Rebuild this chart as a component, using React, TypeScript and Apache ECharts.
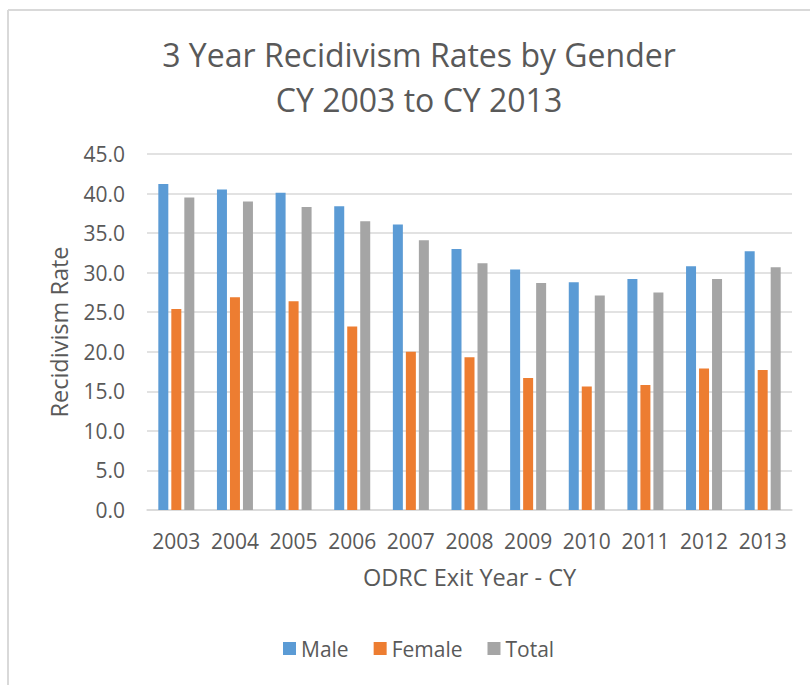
import React, { useEffect, useRef } from "react";
import * as echarts from "echarts";

const years = ["2003", "2004", "2005", "2006", "2007", "2008", "2009", "2010", "2011", "2012", "2013"];
const male = [41.2, 40.5, 40.1, 38.4, 36.1, 33.0, 30.4, 28.8, 29.2, 30.8, 32.7];
const female = [25.4, 26.9, 26.4, 23.2, 20.0, 19.3, 16.7, 15.6, 15.8, 17.9, 17.7];
const total = [39.5, 39.0, 38.3, 36.5, 34.1, 31.2, 28.7, 27.1, 27.5, 29.2, 30.7];
const seriesNames = ["Male", "Female", "Total"];
const colors = ["#5B9BD5", "#ED7D31", "#A5A5A5"];

const FONT = "'Open Sans', sans-serif";
const TEXT = "#595959";

export default function App() {
  const ref = useRef<HTMLDivElement>(null);
  useEffect(() => {
    if (!ref.current) return;
    const chart = echarts.init(ref.current, undefined, { renderer: "svg" });
    const dataSets = [male, female, total];
    chart.setOption({
      animation: false,
      backgroundColor: "#ffffff",
      textStyle: { fontFamily: FONT, color: TEXT },
      title: {
        text: "3 Year Recidivism Rates by Gender\nCY 2003 to CY 2013",
        left: 414,
        top: 27,
        textAlign: "center",
        textStyle: { fontFamily: FONT, fontSize: 32, fontWeight: "normal", color: TEXT, lineHeight: 45 },
      },
      graphic: [
        { type: "line", shape: { x1: 8, y1: 10, x2: 810, y2: 10 }, style: { stroke: "#d9d9d9", lineWidth: 2 } },
        { type: "line", shape: { x1: 8, y1: 10, x2: 8, y2: 685 }, style: { stroke: "#d9d9d9", lineWidth: 2 } },
      ],
      legend: {
        data: seriesNames,
        left: 278,
        top: 633,
        itemWidth: 13,
        itemHeight: 13,
        itemGap: 25,
        icon: "rect",
        textStyle: { fontFamily: FONT, fontSize: 21, color: TEXT, padding: [0, 0, 0, 0] },
      },
      grid: { left: 147, right: 18, top: 154, bottom: 175, containLabel: false },
      xAxis: {
        type: "category",
        data: years,
        name: "ODRC Exit Year - CY",
        nameLocation: "middle",
        nameGap: 55,
        nameTextStyle: { fontFamily: FONT, fontSize: 23.5, color: TEXT },
        axisTick: { show: false },
        axisLine: { lineStyle: { color: "#d9d9d9", width: 1.5 } },
        axisLabel: { fontFamily: FONT, fontSize: 21, color: TEXT, margin: 20, interval: 0 },
      },
      yAxis: {
        type: "value",
        min: 0,
        max: 45,
        interval: 5,
        name: "Recidivism Rate",
        nameLocation: "middle",
        nameGap: 76,
        nameTextStyle: { fontFamily: FONT, fontSize: 23.5, color: TEXT },
        axisLine: { show: false },
        axisTick: { show: false },
        splitLine: { lineStyle: { color: "#d9d9d9", width: 1.5 } },
        axisLabel: {
          fontFamily: FONT,
          fontSize: 21,
          color: TEXT,
          margin: 22,
          formatter: (v: number) => v.toFixed(1),
        },
      },
      series: seriesNames.map((name, i) => ({
        name,
        type: "bar",
        data: dataSets[i],
        barWidth: 10,
        barGap: "30%",
        itemStyle: { color: colors[i] },
      })),
    });
    return () => chart.dispose();
  }, []);
  return (
    <div
      ref={ref}
      style={{ position: "fixed", left: 0, top: 0, width: 810, height: 685, background: "#fff" }}
    />
  );
}
